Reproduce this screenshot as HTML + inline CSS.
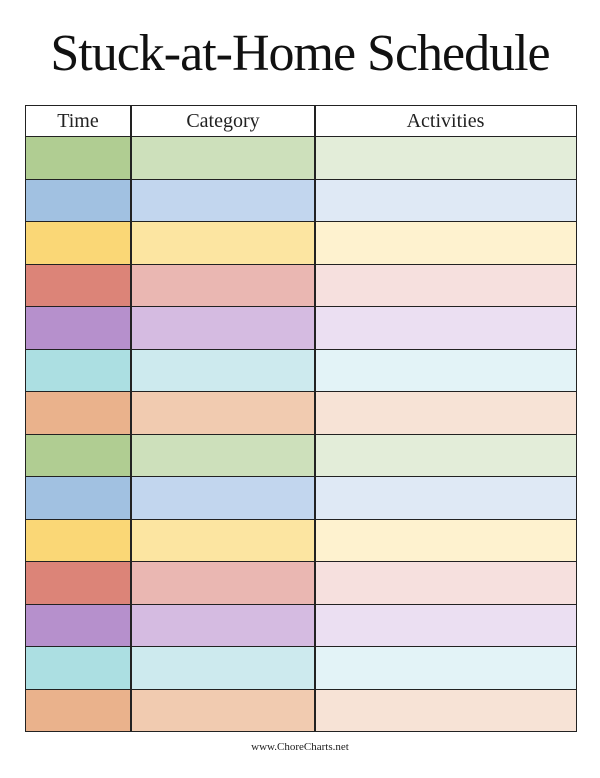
<!DOCTYPE html>
<html><head><style>
body{margin:0;width:600px;height:778px;background:#fff;position:relative;overflow:hidden;font-family:"Liberation Serif",serif}
.t{position:absolute;left:0;width:600px;top:22px;text-align:center;font-size:52px;line-height:64px;color:#111;letter-spacing:-1px}
.g{position:absolute;left:25px;top:105px;width:550px;height:625px;border:1.5px solid #222}
.h{position:absolute;top:0;height:30px;line-height:30px;text-align:center;font-size:20px;color:#222}
.r{position:absolute;left:0;width:550px;height:42.5px;box-sizing:border-box;border-top:1.5px solid #222;display:flex}
.r div{height:100%}
.r div:nth-child(1){width:104px}
.r div:nth-child(2){width:184px}
.r div:nth-child(3){flex:1}
.a div:nth-child(1){background:#b0cd92}.a div:nth-child(2){background:#cde0bb}.a div:nth-child(3){background:#e3edd9}
.b div:nth-child(1){background:#a1c1e1}.b div:nth-child(2){background:#c2d6ee}.b div:nth-child(3){background:#dfe9f5}
.y div:nth-child(1){background:#fad776}.y div:nth-child(2){background:#fce5a1}.y div:nth-child(3){background:#fef2cf}
.d div:nth-child(1){background:#dc8478}.d div:nth-child(2){background:#eab7b2}.d div:nth-child(3){background:#f6e0de}
.p div:nth-child(1){background:#b690cc}.p div:nth-child(2){background:#d5bbe1}.p div:nth-child(3){background:#ebdff2}
.c div:nth-child(1){background:#acdfe2}.c div:nth-child(2){background:#cdeaee}.c div:nth-child(3){background:#e3f3f7}
.o div:nth-child(1){background:#eab28c}.o div:nth-child(2){background:#f1cbb0}.o div:nth-child(3){background:#f7e3d6}
.v{position:absolute;top:0;bottom:0;width:1.5px;background:#222}
.f{position:absolute;top:741px;left:0;width:600px;text-align:center;font-size:11px;color:#222}
</style></head><body>
<div class="t">Stuck-at-Home Schedule</div>
<div class="g">
<div class="h" style="left:0;width:104px">Time</div>
<div class="h" style="left:105px;width:184px">Category</div>
<div class="h" style="left:289px;width:261px">Activities</div>
<div class="r a" style="top:30px"><div></div><div></div><div></div></div>
<div class="r b" style="top:72.5px"><div></div><div></div><div></div></div>
<div class="r y" style="top:115px"><div></div><div></div><div></div></div>
<div class="r d" style="top:157.5px"><div></div><div></div><div></div></div>
<div class="r p" style="top:200px"><div></div><div></div><div></div></div>
<div class="r c" style="top:242.5px"><div></div><div></div><div></div></div>
<div class="r o" style="top:285px"><div></div><div></div><div></div></div>
<div class="r a" style="top:327.5px"><div></div><div></div><div></div></div>
<div class="r b" style="top:370px"><div></div><div></div><div></div></div>
<div class="r y" style="top:412.5px"><div></div><div></div><div></div></div>
<div class="r d" style="top:455px"><div></div><div></div><div></div></div>
<div class="r p" style="top:497.5px"><div></div><div></div><div></div></div>
<div class="r c" style="top:540px"><div></div><div></div><div></div></div>
<div class="r o" style="top:582.5px"><div></div><div></div><div></div></div>
<div class="v" style="left:104px"></div>
<div class="v" style="left:288px"></div>
</div>
<div class="f">www.ChoreCharts.net</div>
</body></html>
